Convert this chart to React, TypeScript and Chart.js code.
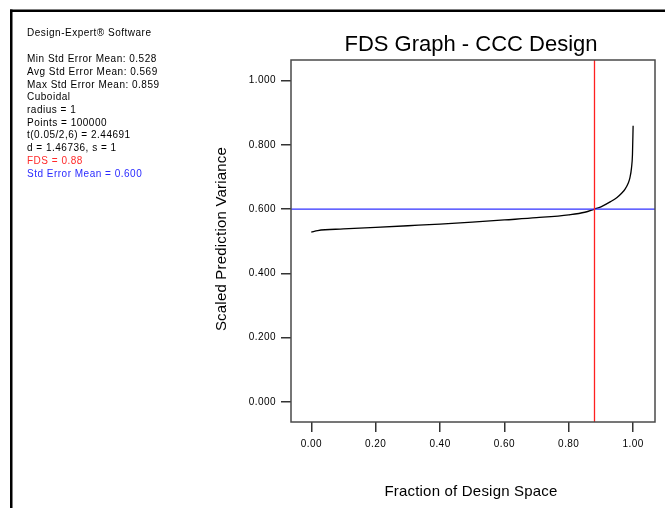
import React, { useEffect, useRef } from "react";
import { Chart, registerables } from "chart.js";

Chart.register(...registerables);

// ---- data ----
const FRACTION = [0, 0.02, 0.1, 0.2, 0.3, 0.4, 0.5, 0.6, 0.7, 0.8, 0.85, 0.88, 0.9, 0.93, 0.95, 0.965, 0.975, 0.985, 0.99, 0.995, 0.998, 1.0];
const VARIANCE = [0.528, 0.533, 0.538, 0.543, 0.548, 0.553, 0.559, 0.566, 0.573, 0.582, 0.590, 0.600, 0.607, 0.623, 0.636, 0.650, 0.662, 0.681, 0.697, 0.728, 0.770, 0.859];
const FDS_VALUE = 0.88;
const STD_ERROR_MEAN = 0.6;
const X_TICKS = [0, 0.2, 0.4, 0.6, 0.8, 1.0];
const Y_TICKS = [0, 0.2, 0.4, 0.6, 0.8, 1.0];
const X_RANGE = [-0.063, 1.068];
const Y_RANGE = [-0.063, 1.064];
const TITLE = "FDS Graph - CCC Design";
const X_TITLE = "Fraction of Design Space";
const Y_TITLE = "Scaled Prediction Variance";
const HEADER = "Design-Expert\u00AE Software";
const INFO_LINES = [
  "Min Std Error Mean: 0.528",
  "Avg Std Error Mean: 0.569",
  "Max Std Error Mean: 0.859",
  "Cuboidal",
  "radius = 1",
  "Points = 100000",
  "t(0.05/2,6) = 2.44691",
  "d = 1.46736, s = 1",
  "FDS = 0.88",
  "Std Error Mean = 0.600",
];

const FONT = "'Liberation Sans', Arial, sans-serif";

const spacingPlugin = {
  id: "spacing",
  beforeDraw(chart: any) {
    (chart.ctx as any).letterSpacing = "0.45px";
  },
};

const decorPlugin = {
  id: "decor",
  afterDraw(chart: any) {
    const ctx = chart.ctx as any;
    const a = chart.chartArea;
    ctx.save();
    // outer frame (top and left)
    ctx.fillStyle = "#000";
    ctx.fillRect(10, 9.5, 655, 2.5);
    ctx.fillRect(10, 9.5, 2.5, 500);
    // plot box
    ctx.strokeStyle = "#4a4a4a";
    ctx.lineWidth = 1.5;
    ctx.strokeRect(a.left, a.top, a.right - a.left, a.bottom - a.top);
    // title
    ctx.fillStyle = "#000";
    ctx.textAlign = "center";
    ctx.textBaseline = "middle";
    ctx.letterSpacing = "0px";
    ctx.font = `22px ${FONT}`;
    ctx.fillText(TITLE, 471, 45);
    // axis titles
    ctx.letterSpacing = "0.2px";
    ctx.font = `15px ${FONT}`;
    ctx.fillText(X_TITLE, 471, 491.5);
    ctx.save();
    ctx.translate(221.5, 239);
    ctx.rotate(-Math.PI / 2);
    ctx.fillText(Y_TITLE, 0, 0);
    ctx.restore();
    // info text
    ctx.textAlign = "left";
    ctx.letterSpacing = "0.5px";
    ctx.font = `10px ${FONT}`;
    ctx.fillText(HEADER, 27, 33.5);
    INFO_LINES.forEach((line: string, i: number) => {
      ctx.fillStyle = i === 8 ? "#ff2a2a" : i === 9 ? "#2a2aff" : "#000";
      ctx.fillText(line, 27, 59.5 + i * 12.7);
    });
    ctx.letterSpacing = "0px";
    ctx.restore();
  },
};

export default function App() {
  const ref = useRef<HTMLCanvasElement | null>(null);
  useEffect(() => {
    if (!ref.current) return;
    const chart = new Chart(ref.current, {
      type: "scatter",
      data: {
        datasets: [
          {
            label: "FDS",
            data: [
              { x: FDS_VALUE, y: Y_RANGE[0] },
              { x: FDS_VALUE, y: Y_RANGE[1] },
            ],
            showLine: true,
            borderColor: "#ff2020",
            borderWidth: 1.3,
            pointRadius: 0,
          },
          {
            label: "Std Error Mean",
            data: [
              { x: X_RANGE[0], y: STD_ERROR_MEAN },
              { x: X_RANGE[1], y: STD_ERROR_MEAN },
            ],
            showLine: true,
            borderColor: "#3030ff",
            borderWidth: 1.3,
            pointRadius: 0,
          },
          {
            label: "Curve",
            data: FRACTION.map((x, i) => ({ x, y: VARIANCE[i] })),
            showLine: true,
            borderColor: "#000",
            borderWidth: 1.3,
            pointRadius: 0,
            cubicInterpolationMode: "monotone",
          },
        ],
      },
      options: {
        responsive: false,
        animation: false,
        devicePixelRatio: 1,
        layout: { padding: { left: 0, top: 60, right: 10, bottom: 0 } },
        plugins: { legend: { display: false }, tooltip: { enabled: false }, title: { display: false } },
        scales: {
          x: {
            type: "linear",
            min: X_RANGE[0],
            max: X_RANGE[1],
            afterBuildTicks: (s: any) => {
              s.ticks = X_TICKS.map((v) => ({ value: v }));
            },
            afterFit: (s: any) => {
              s.height = 86;
            },
            ticks: {
              callback: (v: any) => Number(v).toFixed(2),
              font: { family: FONT, size: 10 },
              color: "#000",
              padding: 6,
              maxRotation: 0,
            },
            grid: { drawOnChartArea: false, drawTicks: true, tickLength: 10, color: "#333", lineWidth: 1.5 },
            border: { display: false },
          },
          y: {
            type: "linear",
            min: Y_RANGE[0],
            max: Y_RANGE[1],
            afterBuildTicks: (s: any) => {
              s.ticks = Y_TICKS.map((v) => ({ value: v }));
            },
            afterFit: (s: any) => {
              s.width = 291;
            },
            ticks: {
              callback: (v: any) => Number(v).toFixed(3),
              font: { family: FONT, size: 10 },
              color: "#000",
              padding: 5,
            },
            grid: { drawOnChartArea: false, drawTicks: true, tickLength: 10, color: "#333", lineWidth: 1.5 },
            border: { display: false },
          },
        },
      },
      plugins: [spacingPlugin, decorPlugin],
    } as any);
    return () => chart.destroy();
  }, []);
  return (
    <div style={{ position: "fixed", left: 0, top: 0, width: 665, height: 508, background: "#fff" }}>
      <canvas ref={ref} width={665} height={508} style={{ display: "block" }} />
    </div>
  );
}
